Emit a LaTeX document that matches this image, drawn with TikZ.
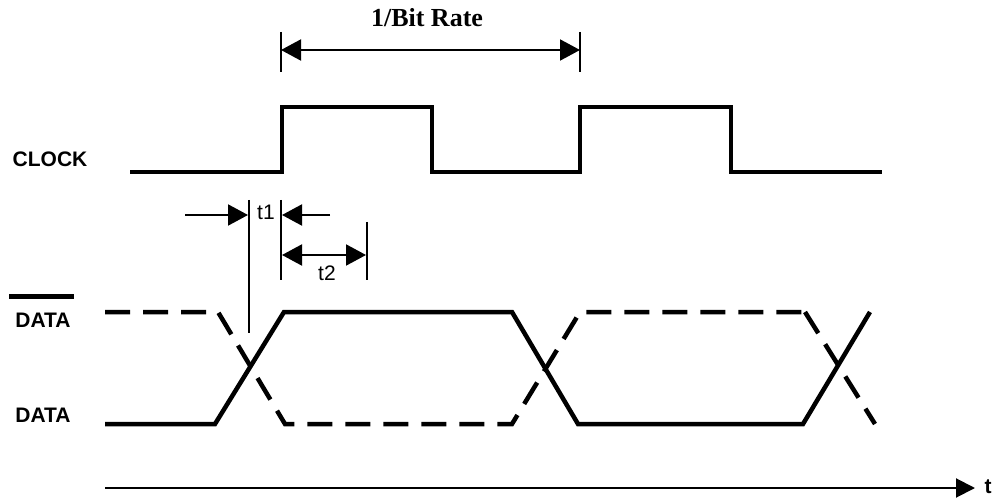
\documentclass[tikz,border=0pt]{standalone}
\usepackage{fontspec}
\setmainfont{Liberation Serif}
\setsansfont{Liberation Sans}
\usetikzlibrary{arrows.meta}

\begin{document}
\begin{tikzpicture}[x=1pt,y=-1pt,
  lbl/.style={font=\sffamily\bfseries\fontsize{21}{24}\selectfont,inner sep=0pt,anchor=base},
  tlbl/.style={font=\sffamily\fontsize{21}{24}\selectfont,inner sep=0pt,anchor=base},
  tick/.style={line width=2pt},
  dim/.style={line width=2pt,-{Triangle[length=20pt,width=21pt]}},
  dimboth/.style={line width=2pt,{Triangle[length=20pt,width=21pt]}-{Triangle[length=20pt,width=21pt]}},
  clk/.style={line width=3.5pt},
  sig/.style={line width=4.5pt},
  sigbar/.style={line width=4.5pt,dash pattern=on 25pt off 13pt}]
\useasboundingbox (0,0) rectangle (997,500);
% labels
\node[font=\bfseries\fontsize{26}{28}\selectfont,inner sep=0pt,anchor=base] (rate) at (427,27) {1/Bit Rate};
\node[lbl] (clock) at (50,167) {CLOCK};
\node[lbl] (databar) at (43,327) {DATA};
\node[lbl] (data) at (43,422) {DATA};
\draw[line width=5pt] (9,296) -- (74,296);
% bit period
\coordinate (pa) at (281,32); \coordinate (pb) at (281,72);
\coordinate (qa) at (580,32); \coordinate (qb) at (580,72);
\draw[tick] (pa) -- (pb);
\draw[tick] (qa) -- (qb);
\draw[dimboth] (281,50) -- (580,50);
% clock
\draw[clk] (130,172) -- (282,172) -- (282,107) -- (432,107) -- (432,172) -- (580,172) -- (580,107) -- (731,107) -- (731,172) -- (882,172);
% t1 and t2
\coordinate (ua) at (249,200); \coordinate (ub) at (249,333);
\coordinate (va) at (281,200); \coordinate (vb) at (281,280);
\coordinate (wa) at (367,222); \coordinate (wb) at (367,280);
\draw[tick] (ua) -- (ub);
\draw[tick] (va) -- (vb);
\draw[tick] (wa) -- (wb);
\draw[dim] (185,215) -- (248,215);
\draw[dim] (330,215) -- (282,215);
\draw[dimboth] (282,255) -- (366,255);
\node[tlbl] (t1) at (266,220) {t1};
\node[tlbl] (t2) at (327,280) {t2};
% data
\draw[sig,line join=miter] (105,424) -- (215,424) -- (284,312) -- (512,312) -- (578,424) -- (803,424) -- (870,312);
\draw[sigbar] (105,312) -- (218,312) -- (285,424) -- (512,424) -- (580,312) -- (805,312);
\draw[sigbar] (805,312) -- (875,424);
% time axis
\coordinate (ta) at (105,488);
\node[lbl] (t) at (988,493) {t};
\draw[line width=2pt,-{Triangle[length=19pt,width=19pt]}] (ta) -- (975,488);
\end{tikzpicture}
\end{document}
